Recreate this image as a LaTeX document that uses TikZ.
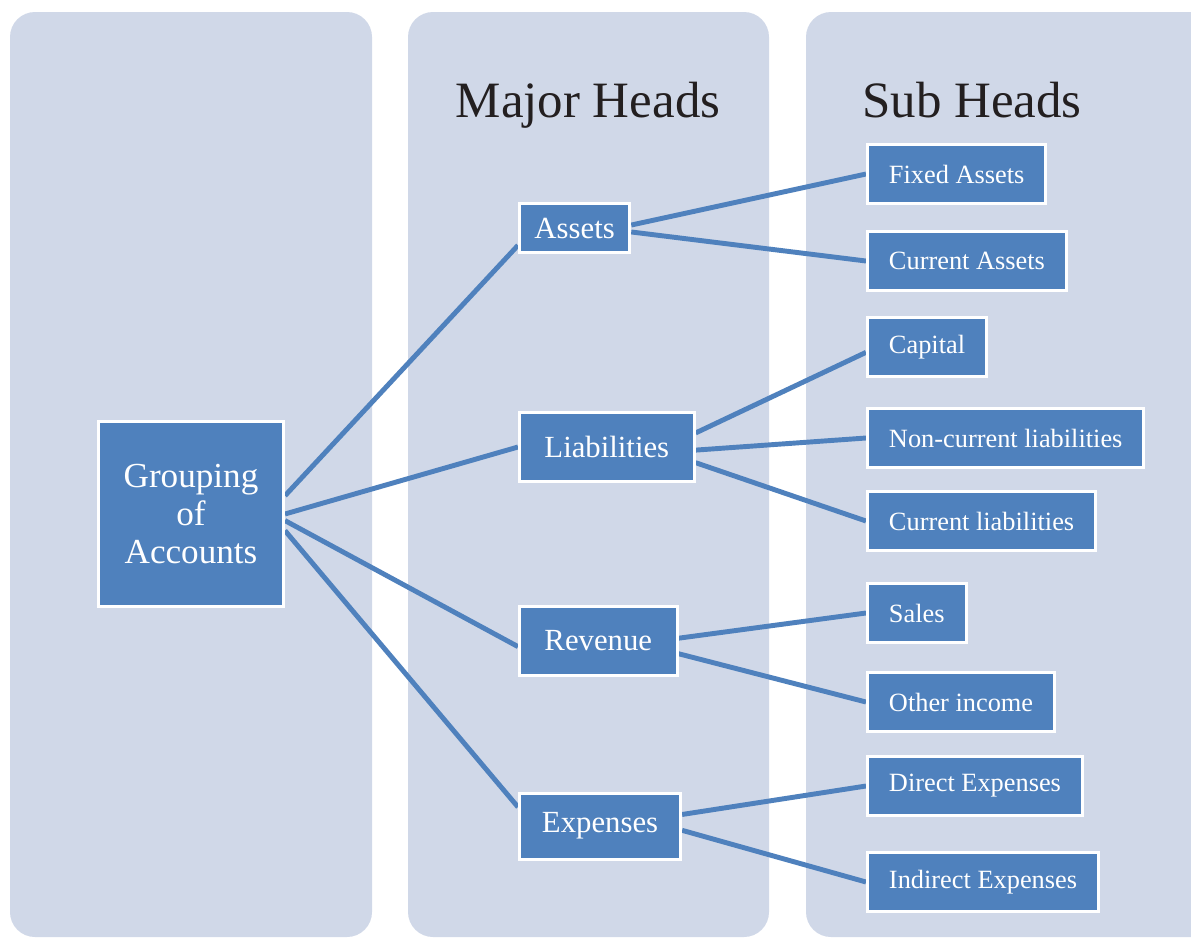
\documentclass[tikz,border=0pt]{standalone}
\usepackage{fontspec}
\setmainfont{Liberation Serif}
\usetikzlibrary{backgrounds}
\definecolor{panel}{RGB}{208,216,232}
\definecolor{boxblue}{RGB}{79,129,189}
\definecolor{headgray}{RGB}{35,31,32}
\tikzset{
  panelbg/.style={fill=panel, rounded corners=0.5cm},
  box/.style={fill=boxblue, draw=white, line width=1.7pt, text=white, inner ysep=0pt},
  groupbox/.style={box, minimum width=3.7cm, minimum height=3.7cm, align=center,
    font=\fontsize{20}{21.5}\selectfont},
  majorbox/.style={box, anchor=west, inner xsep=0.5cm, minimum height=1.38cm,
    font=\fontsize{17.5}{20}\selectfont},
  subbox/.style={box, anchor=west, inner xsep=0.43cm, minimum height=1.18cm,
    font=\fontsize{15}{17}\selectfont},
  link/.style={draw=boxblue, line width=2.8pt},
  headtitle/.style={text=headgray, font=\fontsize{29}{32}\selectfont, anchor=base},
}

\begin{document}
\begin{tikzpicture}[x=0.02cm, y=-0.02cm]
\clip (0,0) rectangle (1191,938);

% titles
\node[headtitle] (major) at (588,117) {Major Heads};
\node[headtitle] (subh) at (972,117) {Sub Heads};

% root
\node[groupbox] (group) at (191,514) {Grouping\\of\\Accounts};

% major heads
\node[majorbox, inner xsep=0.3cm, minimum height=0.98cm] (assets) at (518,228) {Assets};
\node[majorbox] (liab) at (518,447) {Liabilities};
\node[majorbox] (rev) at (518,641) {Revenue};
\node[majorbox, inner xsep=0.45cm, minimum height=1.32cm] (exp) at (518,826) {Expenses};

% sub heads
\node[subbox] (fixed) at (866,174) {Fixed Assets};
\node[subbox] (curassets) at (866,261) {Current Assets};
\node[subbox] (capital) at (866,347) {Capital};
\node[subbox] (noncur) at (866,438) {Non-current liabilities};
\node[subbox] (curliab) at (866,521) {Current liabilities};
\node[subbox] (sales) at (866,613) {Sales};
\node[subbox] (other) at (866,702) {Other income};
\node[subbox] (direct) at (866,786) {Direct Expenses};
\node[subbox] (indirect) at (866,882) {Indirect Expenses};

\begin{scope}[on background layer]
\fill[white] (0,0) rectangle (1191,938);
\fill[panelbg] (10,12) rectangle (372,937);
\fill[panelbg] (408,12) rectangle (769,937);
\fill[panelbg] (806,12) rectangle (1240,937);

% connectors
\draw[link] (group.11) -- (assets.197);
\draw[link] (group.0) -- (liab.west);
\draw[link] (group.-4) -- (rev.184);
\draw[link] (group.-10) -- (exp.167);

\draw[link] (assets.3) -- (fixed.west);
\draw[link] (assets.-4) -- (curassets.west);
\draw[link] (liab.9) -- (capital.185);
\draw[link] (liab.-2) -- (noncur.west);
\draw[link] (liab.-10) -- (curliab.west);
\draw[link] (rev.2) -- (sales.west);
\draw[link] (rev.-9) -- (other.west);
\draw[link] (exp.8) -- (direct.west);
\draw[link] (exp.-3) -- (indirect.west);
\end{scope}
\end{tikzpicture}
\end{document}
